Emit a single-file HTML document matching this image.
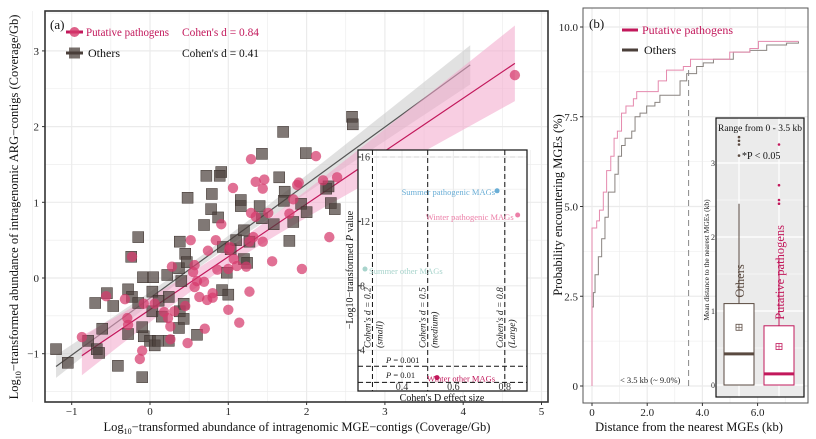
<!DOCTYPE html>
<html><head><meta charset="utf-8">
<style>
html,body{margin:0;padding:0;background:#fff;}
svg{display:block;font-family:"Liberation Serif",serif;}
</style></head>
<body>
<svg id="chart" width="816" height="439" viewBox="0 0 816 439" xmlns="http://www.w3.org/2000/svg">
<g id="panelA"></g>
<g id="panelB"></g>
</svg>
<script>
// ---------- Panel A data ----------
const othersX = [-1.2,-1.05,-0.79,-0.68,-0.65,-0.61,-0.70,-0.55,-0.47,-0.41,-0.28,-0.23,-0.28,-0.24,-0.15,-0.15,-0.1,-0.09,-0.08,-0.1,0,0.06,0.1,0.03,0.04,0.03,0.11,0.15,0.22,0.24,0.24,0.37,0.38,0.43,0.43,0.4,0.37,0.38,0.45,0.47,0.48,0.6,0.69,0.78,0.79,0.72,0.91,0.89,0.87,0.93,0.98,0.92,1.0,1.03,1.1,1.16,1.16,1.2,1.2,1.27,1.24,1.4,1.43,1.43,1.58,1.65,1.7,1.72,1.71,1.78,1.83,1.93,1.99,2.0,2.25,2.28,2.31,2.36,2.58,2.59];
const othersY = [-0.94,-1.12,-0.83,-0.94,-0.99,-0.67,-0.33,-0.2,-0.37,-1.16,-0.15,-0.25,-0.74,0.28,0.54,-0.33,-0.65,0.01,-0.77,-1.31,-0.83,-0.89,-0.83,-0.18,0.01,-0.44,-0.3,-0.51,0.04,-0.25,-0.83,-0.66,-0.44,-0.54,-0.34,-0.04,0.13,0.48,0.32,0.21,1.06,-0.75,0.7,0.91,1.11,1.35,1.4,1.35,0.8,0.41,0.07,-0.16,-0.22,0.38,0.5,1.03,0.95,0.63,0.25,0.48,0.2,0.95,0.79,1.64,0.71,1.33,1.93,1.14,1.02,0.49,0.74,0.98,1.65,0.87,1.18,1.21,0.99,0.91,2.13,2.03];
const pathX = [-0.87,-0.56,-0.32,-0.29,-0.28,-0.23,-0.1,-0.13,-0.08,0.06,0.18,0.23,0.26,0.26,0.31,0.28,0.45,0.48,0.52,0.57,0.55,0.57,0.6,0.63,0.69,0.73,0.74,0.7,0.8,0.8,0.84,0.86,0.91,1.0,1.0,1.01,1.06,1.07,1.11,1.14,1.29,1.35,1.46,1.44,1.29,1.35,1.51,1.02,1.23,1.32,1.27,1.44,1.56,1.27,1.78,1.83,1.88,1.9,1.94,2.12,2.21,2.29,2.39,4.66];
const pathY = [-0.78,-0.24,-0.28,-0.53,-0.62,0.28,-0.96,-1.07,-0.34,-0.34,-0.45,-0.53,-0.64,-0.81,-0.44,0.15,-0.37,-0.86,0.5,0.17,0.08,-0.12,-0.04,-0.25,-0.05,-0.29,0.36,-0.67,-0.26,-0.2,0.5,0.11,0.71,-0.42,0.12,0.37,1.19,0.25,0.16,-0.59,1.57,1.27,1.3,1.18,0.86,0.81,0.86,0.41,0.15,0.54,0.48,0.48,0.22,-0.18,0.85,1.04,1.23,1.26,0.12,1.61,1.29,0.54,1.33,2.68];
const aXTicks = [-1,0,1,2,3,4,5];
const aYTicks = [-1,0,1,2,3];
// inset (Cohen's d)
const insetLabels = ["Summer pathogenic MAGs","Winter pathogenic MAGs","Summer other MAGs","Winter other MAGs"];
const insetD = [0.77,0.85,0.256,0.536];
const insetP = [13.9,12.4,9.04,2.3];
const insetColors = ["#6aaed6","#ec7fa8","#a8d4cc","#c2185b"];
const insetXTicks = [0.4,0.6,0.8];
const insetYTicks = [4,8,12,16];
// ---------- Panel B data ----------
const pathCdfX = [0,0.17,0.27,0.41,0.53,0.68,0.8,0.92,1.07,1.23,1.5,1.62,2.4,2.7,3.31,3.57,4.99,5.72,6.03,7.48];
const pathCdfY = [4.4,4.6,4.9,5.4,6.0,6.4,6.9,7.1,7.6,7.8,8.0,8.2,8.5,8.8,8.9,9.1,9.3,9.4,9.6,9.6];
const othCdfX = [0,0.05,0.11,0.23,0.35,0.47,0.59,0.83,0.95,1.07,1.2,1.44,1.56,1.74,1.98,2.28,2.46,3.19,3.43,3.79,4.03,4.4,5.12,5.72,6.33,7.05,7.48];
const othCdfY = [2.2,2.6,3.1,3.6,4.1,4.7,5.4,5.9,6.4,6.7,6.9,7.1,7.5,7.6,7.8,7.9,8.1,8.5,8.7,8.9,9.0,9.1,9.3,9.35,9.5,9.55,9.6];
const bXTicks = [0,2,4,6];
const bYTicks = [0,2.5,5,7.5,10];
// boxplot stats [q1, median, q3, whiskerHigh, mean]
const boxGroups = ["Others","Putative pathogens"];
const boxStats = [[0.0,0.42,1.1,2.45,0.78],[0.0,0.15,0.8,1.72,0.52]];
const boxOutliers = [[3.1,3.25,3.3,3.35],[2.45,2.5,2.7,3.25]];
const boxYTicks = [0,1,2,3];

const NS="http://www.w3.org/2000/svg";
function mk(parent,tag,attrs,text){const e=document.createElementNS(NS,tag);for(const k in attrs)e.setAttribute(k,attrs[k]);if(text!==undefined)e.textContent=text;parent.appendChild(e);return e;}

// ===== Panel A =====
const A=document.getElementById('panelA');
const aL=45,aR=548,aT=11,aB=402;
const ax=v=>150+v*78.3, ay=v=>278-v*75.7;
let bg=mk(A,'rect',{x:aL,y:aT,width:aR-aL,height:aB-aT,fill:'#fff'});

for(let v=-1.5;v<=5.01;v+=0.5){let g=mk(A,'line',{x1:ax(v),x2:ax(v),y1:aT,y2:aB,stroke:'#ebebeb','stroke-width':Number.isInteger(v)?1.2:0.6});}
for(let v=-1.5;v<=3.51;v+=0.5){let g=mk(A,'line',{x1:aL,x2:aR,y1:ay(v),y2:ay(v),stroke:'#ebebeb','stroke-width':Number.isInteger(v)?1.2:0.6});}
// regression + CI
function fit(xs,ys){const n=xs.length;const mx=xs.reduce((a,b)=>a+b)/n,my=ys.reduce((a,b)=>a+b)/n;let sxx=0,sxy=0;for(let i=0;i<n;i++){sxx+=(xs[i]-mx)**2;sxy+=(xs[i]-mx)*(ys[i]-my);}const b=sxy/sxx,a=my-b*mx;let sse=0;for(let i=0;i<n;i++)sse+=(ys[i]-a-b*xs[i])**2;const s=Math.sqrt(sse/(n-2));return {a,b,mx,sxx,s,n};}
function drawFit(xs,ys,x0,x1,fillC,lineC,nm,tm){const f=fit(xs,ys);const N=40;let up=[],lo=[];for(let i=0;i<=N;i++){const x=x0+(x1-x0)*i/N;const y=f.a+f.b*x;const h=tm*f.s*Math.sqrt(1/f.n+(x-f.mx)**2/f.sxx);up.push(ax(x)+','+ay(y+h));lo.unshift(ax(x)+','+ay(y-h));}
let r=mk(A,'polygon',{points:up.concat(lo).join(' '),fill:fillC,'fill-opacity':0.55});
let l=mk(A,'line',{x1:ax(x0),y1:ay(f.a+f.b*x0),x2:ax(x1),y2:ay(f.a+f.b*x1),stroke:lineC,'stroke-width':1.2});}
drawFit(othersX,othersY,Math.min(...othersX),Math.max(...othersX)+1.5,'#c9c9c9','#555','others',1.2);
drawFit(pathX,pathY,Math.min(...pathX),Math.max(...pathX),'#f2a6cb','#c2185b','pathogens',1.99);
othersX.forEach((x,i)=>{let s=mk(A,'rect',{x:ax(x)-5.5,y:ay(othersY[i])-5.5,width:11,height:11,fill:'#4a3f3a','fill-opacity':0.7,stroke:'#3a302c','stroke-width':0.5});});
pathX.forEach((x,i)=>{let c=mk(A,'circle',{cx:ax(x),cy:ay(pathY[i]),r:5.2,fill:'#d63a6c','fill-opacity':0.72});});
// frame
let fr=mk(A,'rect',{x:aL,y:aT,width:aR-aL,height:aB-aT,fill:'none',stroke:'#333','stroke-width':1.6});
aXTicks.forEach(v=>{let t=mk(A,'line',{x1:ax(v),x2:ax(v),y1:aB,y2:aB+3,stroke:'#333'});
let tx=mk(A,'text',{x:ax(v),y:aB+13,'font-size':11,'text-anchor':'middle',fill:'#222'},v<0?'−'+(-v):String(v));});
aYTicks.forEach(v=>{let t=mk(A,'line',{x1:aL-3,x2:aL,y1:ay(v),y2:ay(v),stroke:'#333'});
let tx=mk(A,'text',{x:aL-6,y:ay(v)+4,'font-size':11,'text-anchor':'end',fill:'#222'},v<0?'−'+(-v):String(v));});
let xt=mk(A,'text',{x:297,y:431,'font-size':12.5,'text-anchor':'middle',fill:'#111'});
xt.innerHTML='Log<tspan font-size="8" dy="3">10</tspan><tspan dy="-3">−transformed abundance of intragenomic MGE−contigs (Coverage/Gb)</tspan>';
let yt=mk(A,'text',{x:0,y:0,'font-size':12.5,'text-anchor':'middle',fill:'#111',transform:'translate(18,207) rotate(-90)'});
yt.innerHTML='Log<tspan font-size="8" dy="3">10</tspan><tspan dy="-3">−transformed abundance of intragenomic ARG−contigs (Coverage/Gb)</tspan>';
let pa=mk(A,'text',{x:50,y:29,'font-size':13,fill:'#111'},'(a)');
// legend
let lg=mk(A,'g',{});
mk(lg,'line',{x1:66,x2:83,y1:32,y2:32,stroke:'#c2185b','stroke-width':3});mk(lg,'circle',{cx:74.5,cy:32,r:5,fill:'#d63a6c','fill-opacity':0.8});
let l1=mk(lg,'text',{x:86,y:36,'font-size':12,fill:'#c2185b',textLength:83,lengthAdjust:'spacingAndGlyphs'},'Putative pathogens');
let l2=mk(lg,'text',{x:182,y:36,'font-size':12,fill:'#c2185b',textLength:77,lengthAdjust:'spacingAndGlyphs'},"Cohen's d = 0.84");
mk(lg,'line',{x1:66,x2:83,y1:53,y2:53,stroke:'#4a3f3a','stroke-width':3});mk(lg,'rect',{x:69,y:47.5,width:11,height:11,fill:'#4a3f3a','fill-opacity':0.75});
let l3=mk(lg,'text',{x:88,y:57,'font-size':12,fill:'#111'},'Others');
let l4=mk(lg,'text',{x:182,y:57,'font-size':12,fill:'#111',textLength:77,lengthAdjust:'spacingAndGlyphs'},"Cohen's d = 0.41");

// inset
const I=mk(A,'g',{});
const iL=358,iR=527,iT=150,iB=391;
const ix=v=>402+(v-0.4)*257, iy=v=>157+(16-v)*16.1;
mk(I,'rect',{x:iL,y:iT,width:iR-iL,height:iB-iT,fill:'#fff'});
for(let v=0.3;v<=0.91;v+=0.1){mk(I,'line',{x1:ix(v),x2:ix(v),y1:iT,y2:iB,stroke:'#ebebeb','stroke-width':Math.round(v*10)%2==0?1.1:0.6});}
for(let v=2;v<=16;v+=2){mk(I,'line',{x1:iL,x2:iR,y1:iy(v),y2:iy(v),stroke:'#ebebeb','stroke-width':v%4==0?1.1:0.6});}
[0.285,0.5,0.8].forEach(v=>{let d=mk(I,'line',{x1:ix(v),x2:ix(v),y1:iT,y2:iB,stroke:'#111','stroke-dasharray':'5,3','stroke-width':1});});
[3,2].forEach(v=>{let d=mk(I,'line',{x1:iL,x2:iR,y1:iy(v),y2:iy(v),stroke:'#111','stroke-dasharray':'5,3','stroke-width':1});});
mk(I,'line',{x1:iL,x2:iR,y1:iy(16),y2:iy(16),stroke:'#ddd','stroke-dasharray':'5,3','stroke-width':1.2});
insetD.forEach((d,i)=>{let c=mk(I,'circle',{cx:ix(d),cy:iy(insetP[i]),r:2.5,fill:insetColors[i]});});
const lblPos=[[-2,4,'end'],[-4,5,'end'],[4,5,'start'],[-10,4,'start']];
insetD.forEach((d,i)=>{let t=mk(I,'text',{x:ix(d)+lblPos[i][0],y:iy(insetP[i])+lblPos[i][1],'font-size':8.5,fill:insetColors[i],'text-anchor':lblPos[i][2]},insetLabels[i]);});
[[0.285,"Cohen's d = 0.2","(small)"],[0.5,"Cohen's d = 0.5","(medium)"],[0.8,"Cohen's d = 0.8","(Large)"]].forEach(a=>{
 let t=mk(I,'text',{x:0,y:0,'font-size':9.5,'font-style':'italic',fill:'#222',transform:`translate(${ix(a[0])-2},348) rotate(-90)`},a[1]);
 let t2=mk(I,'text',{x:0,y:0,'font-size':9.5,'font-style':'italic',fill:'#222',transform:`translate(${ix(a[0])+10},348) rotate(-90)`},a[2]);});
let p1=mk(I,'text',{x:386,y:363,'font-size':8.5,fill:'#222'});p1.innerHTML='<tspan font-style="italic">P</tspan> = 0.001';
let p2=mk(I,'text',{x:386,y:378,'font-size':8.5,fill:'#222'});p2.innerHTML='<tspan font-style="italic">P</tspan> = 0.01';
mk(I,'rect',{x:iL,y:iT,width:iR-iL,height:iB-iT,fill:'none',stroke:'#222','stroke-width':1.3});
insetXTicks.forEach(v=>{let t=mk(I,'text',{x:ix(v),y:iB-1,'font-size':10,'text-anchor':'middle',fill:'#333'},v.toFixed(1));});
insetYTicks.forEach(v=>{mk(I,'line',{x1:iL,x2:iL+3,y1:iy(v),y2:iy(v),stroke:'#222'});let t=mk(I,'text',{x:iL+2,y:iy(v)+3.5,'font-size':10,fill:'#333'},String(v));});
let ixt=mk(I,'text',{x:442,y:401,'font-size':10,'text-anchor':'middle',fill:'#111'},"Cohen's D effect size");
let iyt=mk(I,'text',{x:0,y:0,'font-size':10,'text-anchor':'middle',fill:'#111',transform:'translate(353,270) rotate(-90)'});iyt.innerHTML='−Log10−transformed <tspan font-style="italic">P</tspan> value';

// ===== Panel B =====
const B=document.getElementById('panelB');
const bL=583,bR=808,bT=8,bB=403;
const bx=v=>592+v*27.6, by=v=>386-v*35.9;
mk(B,'rect',{x:bL,y:bT,width:bR-bL,height:bB-bT,fill:'#fff'});
for(let v=0;v<=7.01;v+=1){mk(B,'line',{x1:bx(v),x2:bx(v),y1:bT,y2:bB,stroke:'#ebebeb','stroke-width':v%2==0?1.2:0.6});}
for(let v=0;v<=10.01;v+=1.25){mk(B,'line',{x1:bL,x2:bR,y1:by(v),y2:by(v),stroke:'#ebebeb','stroke-width':(v%2.5==0)?1.2:0.6});}
function step(xs,ys){let d=`M${bx(xs[0])},${by(0)} L${bx(xs[0])},${by(ys[0])}`;for(let i=1;i<xs.length;i++){d+=` L${bx(xs[i])},${by(ys[i-1])} L${bx(xs[i])},${by(ys[i])}`;}return d;}
let so=mk(B,'path',{d:step(othCdfX,othCdfY),fill:'none',stroke:'#8a8480','stroke-width':1});
let sp=mk(B,'path',{d:step(pathCdfX,pathCdfY),fill:'none',stroke:'#e58aae','stroke-width':1});
let dl=mk(B,'line',{x1:bx(3.5),x2:bx(3.5),y1:by(0),y2:by(8.9),stroke:'#888','stroke-dasharray':'6,4','stroke-width':1});
let ct=mk(B,'text',{x:620,y:383,'font-size':8.5,fill:'#222'},'< 3.5 kb (~ 9.0%)');
mk(B,'rect',{x:bL,y:bT,width:bR-bL,height:bB-bT,fill:'none',stroke:'#555','stroke-width':1});
bXTicks.forEach(v=>{mk(B,'line',{x1:bx(v),x2:bx(v),y1:bB,y2:bB+3,stroke:'#333'});let t=mk(B,'text',{x:bx(v),y:bB+13,'font-size':11,'text-anchor':'middle',fill:'#222'},v==0?'0':v.toFixed(1));});
bYTicks.forEach(v=>{mk(B,'line',{x1:bL-3,x2:bL,y1:by(v),y2:by(v),stroke:'#333'});let t=mk(B,'text',{x:bL-5,y:by(v)+4,'font-size':11,'text-anchor':'end',fill:'#222'},v==0?'0':v.toFixed(1));});
let bxt=mk(B,'text',{x:689,y:431,'font-size':12.5,'text-anchor':'middle',fill:'#111'},'Distance from the nearest MGEs (kb)');
let byt=mk(B,'text',{x:0,y:0,'font-size':12.5,'text-anchor':'middle',fill:'#111',transform:'translate(562,205) rotate(-90)'},'Probability encountering MGEs (%)');
let pb=mk(B,'text',{x:589,y:28,'font-size':13,fill:'#111'},'(b)');
let lb=mk(B,'g',{});
mk(lb,'line',{x1:622,x2:638,y1:30,y2:30,stroke:'#c2185b','stroke-width':3});
let lb1=mk(lb,'text',{x:642,y:34,'font-size':12,fill:'#c2185b'},'Putative pathogens');
mk(lb,'line',{x1:622,x2:638,y1:50,y2:50,stroke:'#4a3f3a','stroke-width':3});
let lb2=mk(lb,'text',{x:644,y:54,'font-size':12,fill:'#111'},'Others');
// box inset
const X=mk(B,'g',{});
const xL=716,xR=804,xT=118,xB=397;
const xy=v=>385-v*74;
mk(X,'rect',{x:xL,y:xT,width:xR-xL,height:xB-xT,fill:'#ebebeb'});
for(let v=0;v<=3.51;v+=0.5){mk(X,'line',{x1:xL,x2:xR,y1:xy(v),y2:xy(v),stroke:'#fff','stroke-width':v%1==0?1.2:0.6});}
const bcx=[739,779],bcol=['#5a4a40','#c2185b'];
[739,779].forEach(c=>mk(X,'line',{x1:c,x2:c,y1:xT,y2:xB,stroke:'#fff','stroke-width':1.2}));
boxStats.forEach((s,i)=>{const c=bcx[i],col=bcol[i];
 let w=mk(X,'line',{x1:c,x2:c,y1:xy(s[2]),y2:xy(s[3]),stroke:col,'stroke-width':1});
 let r=mk(X,'rect',{x:c-15,y:xy(s[2]),width:30,height:xy(s[0])-xy(s[2]),fill:'#fff',stroke:col,'stroke-width':1});
 let m=mk(X,'line',{x1:c-15,x2:c+15,y1:xy(s[1]),y2:xy(s[1]),stroke:col,'stroke-width':3});
 let mn=mk(X,'rect',{x:c-3,y:xy(s[4])-3,width:6,height:6,fill:'none',stroke:col,'stroke-width':0.8});
 mk(X,'line',{x1:c-3,x2:c+3,y1:xy(s[4]),y2:xy(s[4]),stroke:col,'stroke-width':0.6});mk(X,'line',{x1:c,x2:c,y1:xy(s[4])-3,y2:xy(s[4])+3,stroke:col,'stroke-width':0.6});
 boxOutliers[i].forEach(o=>{let p=mk(X,'circle',{cx:c,cy:xy(o),r:1.3,fill:col});});
 let gl=mk(X,'text',{x:0,y:0,'font-size':12.5,fill:col,transform:`translate(${c+5},${xy(s[2])-6}) rotate(-90)`},boxGroups[i]);});
mk(X,'rect',{x:xL,y:xT,width:xR-xL,height:xB-xT,fill:'none',stroke:'#111','stroke-width':1.2});
boxYTicks.forEach(v=>{let t=mk(X,'text',{x:xL-1,y:xy(v)+3,'font-size':8,'text-anchor':'end',fill:'#333'},String(v));});
let rt=mk(X,'text',{x:760,y:131,'font-size':9.5,'text-anchor':'middle',fill:'#111'},'Range from 0 - 3.5 kb');
let st=mk(X,'text',{x:742,y:159,'font-size':10,fill:'#111'},'*P < 0.05');
let xyt=mk(X,'text',{x:0,y:0,'font-size':7.5,'text-anchor':'middle',fill:'#222',transform:'translate(709,260) rotate(-90)'},'Mean distance to the nearest MGEs (kb)');
</script>
</body></html>
